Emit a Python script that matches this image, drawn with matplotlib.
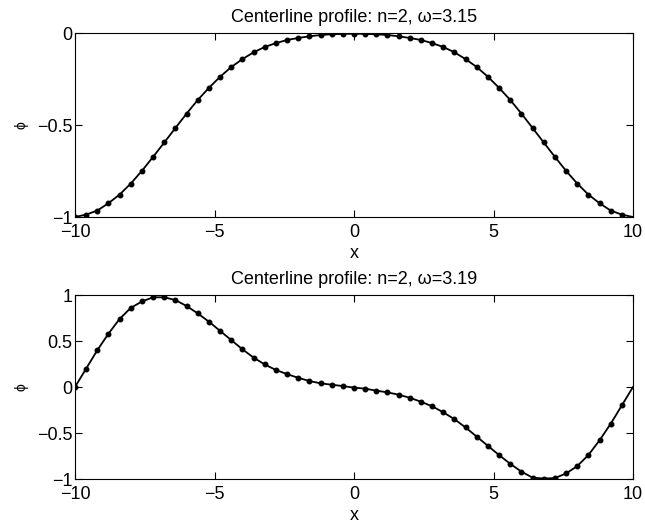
import numpy as np
import matplotlib.pyplot as plt

plt.rcParams['font.family'] = ['Liberation Sans', 'DejaVu Sans']

# grid points of the solution (periodic, last point at 9.6)
x_pts = [-10.0, -9.6, -9.2, -8.8, -8.4, -8.0, -7.6, -7.2, -6.8, -6.4,
         -6.0, -5.6, -5.2, -4.8, -4.4, -4.0, -3.6, -3.2, -2.8, -2.4,
         -2.0, -1.6, -1.2, -0.8, -0.4, 0.0, 0.4, 0.8, 1.2, 1.6,
         2.0, 2.4, 2.8, 3.2, 3.6, 4.0, 4.4, 4.8, 5.2, 5.6,
         6.0, 6.4, 6.8, 7.2, 7.6, 8.0, 8.4, 8.8, 9.2, 9.6]

# omega = 3.15
phi_a = [-1.000, -0.987, -0.965, -0.925, -0.878, -0.818, -0.749, -0.673, -0.595, -0.516,
         -0.438, -0.364, -0.298, -0.238, -0.185, -0.142, -0.105, -0.076, -0.055, -0.038,
         -0.027, -0.018, -0.011, -0.007, -0.005, -0.004, -0.005, -0.007, -0.011, -0.018,
         -0.027, -0.038, -0.055, -0.076, -0.105, -0.142, -0.185, -0.238, -0.298, -0.364,
         -0.438, -0.516, -0.595, -0.673, -0.749, -0.818, -0.878, -0.925, -0.965, -0.987]

# omega = 3.19
phi_b = [0.000, 0.200, 0.400, 0.580, 0.740, 0.860, 0.930, 0.975, 0.975, 0.945,
         0.880, 0.800, 0.710, 0.610, 0.510, 0.410, 0.320, 0.245, 0.185, 0.140,
         0.100, 0.065, 0.040, 0.025, 0.010, -0.007, -0.018, -0.040, -0.058, -0.084,
         -0.117, -0.160, -0.210, -0.275, -0.350, -0.440, -0.540, -0.640, -0.740, -0.835,
         -0.920, -0.985, -0.995, -0.990, -0.940, -0.860, -0.740, -0.580, -0.400, -0.200]

titles = ['Centerline profile: n=2, \u03c9=3.15', 'Centerline profile: n=2, \u03c9=3.19']
yticks_list = [[-1, -0.5, 0], [-1, -0.5, 0, 0.5, 1]]
ylims = [(-1, 0), (-1, 1)]

fig = plt.figure(figsize=(6.45, 5.26), dpi=100)
W, H = 645.0, 526.0
ax1 = fig.add_axes([75 / W, 1 - 217 / H, 558 / W, 184 / H])
ax2 = fig.add_axes([75 / W, 1 - 479 / H, 558 / W, 184 / H])

for ax, phi, title, yt, yl in zip([ax1, ax2], [phi_a, phi_b], titles, yticks_list, ylims):
    # periodic: close the line back to x=10
    xl = list(x_pts) + [10.0]
    yl_line = list(phi) + [phi[0]]
    ax.plot(xl, yl_line, '-', color='black', linewidth=1.3)
    ax.plot(x_pts, phi, '.', color='black', markersize=6.5)
    ax.set_xlim(-10, 10)
    ax.set_ylim(*yl)
    ax.set_xticks([-10, -5, 0, 5, 10])
    ax.set_yticks(yt)
    ax.set_yticklabels(['{:g}'.format(v).replace('-', '\u2212') for v in yt])
    ax.tick_params(direction='in', top=True, right=True, length=5, width=0.8,
                   labelsize=13)
    ax.tick_params(axis='x', pad=5)
    ax.tick_params(axis='y', pad=2)
    ax.set_title(title, fontsize=13, pad=8)
    ax.set_xlabel('x', fontsize=13, labelpad=3)
    ax.set_ylabel('\u03d5', fontsize=10, rotation=90, labelpad=6)
    for s in ax.spines.values():
        s.set_linewidth(0.8)

plt.savefig('out.png', dpi=100)
